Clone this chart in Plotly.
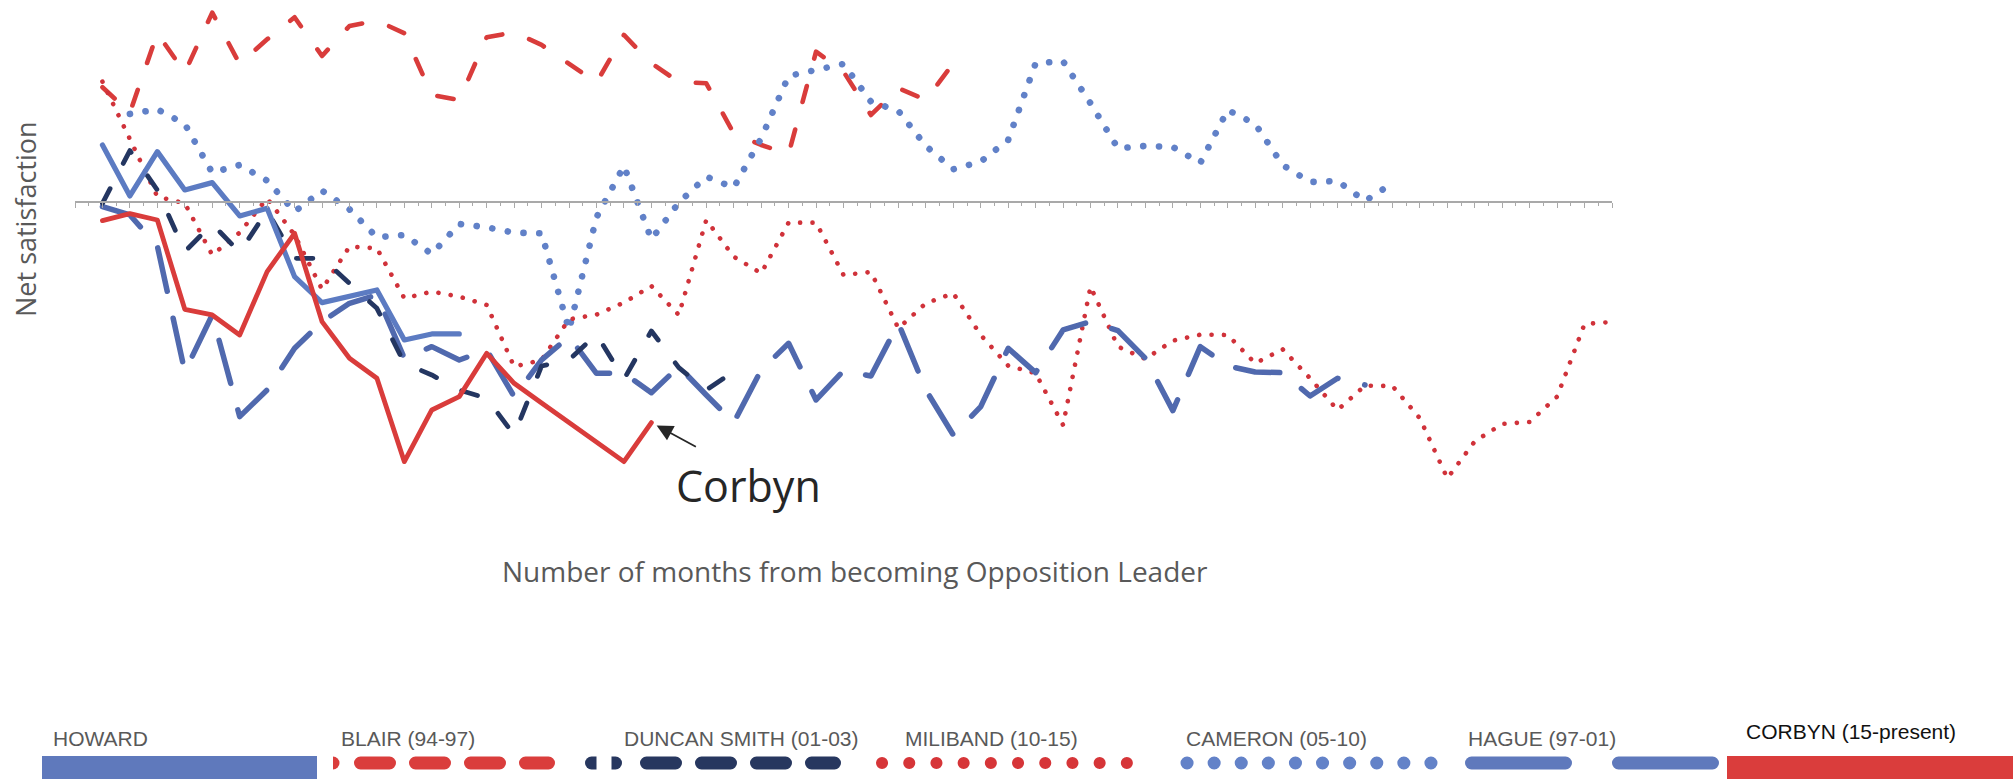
import plotly.graph_objects as go

# ---------------- data (net satisfaction by month since becoming leader) -------------
blair = [17.25, 13.45, 25.35, 19.45, 28.45, 20.75, 24.45, 27.75, 21.95, 26.45, 27.25, 25.35,
         16.1, 15.35, 24.75, 25.5, 23.6, 20.85, 17.95, 25.1, 20.85, 18.05, 17.85, 10.35,
         8.6, 7.25, 22.6, 19.6, 13.1, 17.1, 15.35, 20.85]
duncan_smith = [-0.15, 7.75, 1.85, -7.4, -3.25, -7.5, -1.25, -8.4, -8.4, -12.25, -15.9, -24.15,
                -25.9, -28.15, -29.4, -34.9, -24.55, -23.65, -19.8, -26.55, -19.3, -24.8, -28.15, -25.4]
miliband = [18.1, 9.35, 0.85, -0.15, -7.9, -4.55, 0.6, -4.9, -13.05, -6.65, -6.9, -14.4,
            -13.4, -14.15, -15.4, -24.65, -23.65, -17.55, -16.85, -15.05, -12.55, -16.9, -2.65, -8.15,
            -10.65, -3.05, -3.05, -10.9, -10.45, -18.9, -15.15, -13.65, -19.9, -24.5, -25.65, -33.4,
            -12.65, -21.65, -23.5, -20.75, -19.85, -19.9, -24.15, -22.05, -26.4, -31.15, -27.5, -27.55,
            -32.4, -41.4, -35.85, -33.25, -32.95, -29.15, -18.25, -17.95]
cameron = [13.25, 13.95, 11.75, 4.45, 5.6, 3.25, -1.4, 1.75, -1.05, -5.25, -4.9, -7.75,
           -3.25, -3.75, -4.55, -4.65, -19.15, -2.25, 5.45, -5.55, -0.05, 3.85, 2.2, 9.6,
           18.95, 19.8, 20.75, 15.1, 13.7, 8.45, 4.95, 6.1, 9.35, 20.85, 21.15, 14.85,
           8.1, 8.45, 8.3, 5.9, 13.85, 11.75, 5.6, 3.05, 3.2, 0.2, 2.85]
hague = [-0.65, -1.9, -6.55, -25.4, -16.9, -32.15, -28.15, -21.9, -17.9, -15.15, -13.9, -23.4,
         -21.65, -23.65, -22.15, -29.15, -23.65, -20.15, -25.65, -25.65, -28.55, -24.65, -28.9, -33.05,
         -25.15, -21.15, -29.65, -25.25, -26.05, -18.15, -28.15, -34.9, -30.65, -21.9, -25.55, -19.15,
         -17.9, -19.25, -23.4, -31.25, -21.65, -24.55, -25.45, -25.55, -29.05, -26.4, -27.4]
howard = [8.6, 0.95, 7.6, 1.85, 2.95, -2.05, -0.9, -11.15, -15.05, -14.0, -13.15, -20.65,
          -19.75, -19.75]
corbyn = [-2.75, -1.7, -2.65, -16.05, -16.9, -19.9, -10.4, -4.65, -17.9, -23.4, -26.4, -38.9,
          -31.15, -29.15, -22.65, -27.15, -30.1, -33.05, -35.95, -38.9, -33.05]

series_names = ["HOWARD", "BLAIR (94-97)", "DUNCAN SMITH (01-03)", "MILIBAND (10-15)",
                "CAMERON (05-10)", "HAGUE (97-01)", "CORBYN (15-present)"]
start_month = {"blair": 0, "duncan_smith": 0, "miliband": 0, "cameron": 1,
               "hague": 0, "howard": 0, "corbyn": 0}
x_min, x_max = -1, 55

# ---------------- geometry helpers (figure pixels -> paper) ----------------
W, H = 2013, 779
def px(xp):
    return xp / W
def py(yp):
    return 1 - yp / H

RED = "#D93C3B"
RED_DOT = "#D0323A"
BLUE = "#5C7BC2"
BLUE_DASH = "#5069AE"
BLUE_DOT = "#6181C8"
NAVY = "#243661"
GREY_TXT = "#595959"

fig = go.Figure()

def add(name, key, vals, color, width, dash):
    s = start_month[key]
    fig.add_trace(go.Scatter(x=list(range(s, s + len(vals))), y=vals, mode="lines",
                             name=name, line=dict(color=color, width=width, dash=dash),
                             showlegend=False, hoverinfo="skip"))

add("BLAIR (94-97)", "blair", blair, RED, 4.6, "16.5px,28.5px")
add("CAMERON (05-10)", "cameron", cameron, BLUE_DOT, 6.6, "0.1px,15.7px")
add("MILIBAND (10-15)", "miliband", miliband, RED_DOT, 4.6, "0.1px,12.3px")
add("HAGUE (97-01)", "hague", hague, BLUE_DASH, 5.5, "44.5px,27.5px")
add("DUNCAN SMITH (01-03)", "duncan_smith", duncan_smith, NAVY, 4.8, "16.5px,28.5px")
add("HOWARD", "howard", howard, BLUE, 5.2, "solid")
add("CORBYN (15-present)", "corbyn", corbyn, RED, 4.8, "solid")

# y value <-> pixel:  ypix = 202.3 - 6.667*v
y_top = 202.3 / 6.667
y_bot = (202.3 - H) / 6.667

fig.update_layout(
    width=W, height=H, margin=dict(l=0, r=0, t=0, b=0),
    paper_bgcolor="white", plot_bgcolor="white",
    xaxis=dict(domain=[px(75), px(1612)], range=[x_min, x_max], anchor="free",
               position=py(202.3), showline=True, linecolor="#A9A9A9", linewidth=1.5,
               ticks="outside", ticklen=5, tickwidth=1.2, tickcolor="#A9A9A9",
               tickmode="linear", tick0=x_min, dtick=1, showticklabels=False,
               showgrid=False, zeroline=False,
               minor=dict(ticks="outside", ticklen=3, tickwidth=1.2, tickcolor="#A9A9A9",
                          dtick=0.5, tick0=x_min, showgrid=False)),
    yaxis=dict(domain=[0, 1], range=[y_bot, y_top], visible=False, fixedrange=True),
    font=dict(family="Open Sans", color=GREY_TXT),
)

ann = []
ann.append(dict(text="Net satisfaction", x=px(25), y=py(219), xref="paper", yref="paper",
                xanchor="center", yanchor="middle",
                textangle=-90, showarrow=False, font=dict(size=27, color=GREY_TXT, family="Open Sans")))
ann.append(dict(text="Number of months from becoming Opposition Leader", x=px(855), y=py(571),
                xref="paper", yref="paper", xanchor="center", yanchor="middle", showarrow=False,
                font=dict(size=28, color=GREY_TXT, family="Open Sans")))
ann.append(dict(text="Corbyn", x=px(748), y=py(486), xref="paper", yref="paper",
                xanchor="center", yanchor="middle", showarrow=False,
                font=dict(size=43, color="#262626", family="Open Sans")))
# arrow pointing to the last Corbyn value
ann.append(dict(text="", x=len(corbyn) - 1, y=corbyn[-1], xref="x", yref="y",
                showarrow=True, arrowhead=2, arrowsize=1.8, arrowwidth=1.8, arrowcolor="#262626",
                ax=46, ay=25, standoff=6))

# ---------------- custom legend at the bottom ----------------
label_x = [51, 339, 622, 903, 1184, 1466, 1744]
for i, name in enumerate(series_names):
    is_c = name.startswith("CORBYN")
    ann.append(dict(text=name, x=px(label_x[i]), y=py(731 if is_c else 738), xref="paper",
                    yref="paper", xanchor="left", yanchor="middle", showarrow=False,
                    font=dict(family="Liberation Sans", size=21,
                              color="#111111" if is_c else GREY_TXT)))

shapes = []
ly = 763
shapes.append(dict(type="rect", xref="paper", yref="paper", x0=px(42), x1=px(317),
                   y0=py(790), y1=py(756), fillcolor="#5F79BC", line=dict(width=0)))
shapes.append(dict(type="rect", xref="paper", yref="paper", x0=px(1727), x1=px(2013),
                   y0=py(790), y1=py(756), fillcolor="#DA3D3C", line=dict(width=0)))
def leg_line(x0, x1, color, width, dash):
    shapes.append(dict(type="line", xref="paper", yref="paper", x0=px(x0), x1=px(x1),
                       y0=py(ly), y1=py(ly), line=dict(color=color, width=width, dash=dash)))
def white_box(x0, x1):
    shapes.append(dict(type="rect", xref="paper", yref="paper", x0=px(x0), x1=px(x1),
                       y0=py(775), y1=py(750), fillcolor="white", line=dict(width=0)))
# Blair
leg_line(332, 333, "#DA3D3C", 13, "solid")
white_box(318, 333)
leg_line(360.5, 548.5, "#DA3D3C", 13, "29px,26px")
# Duncan Smith
leg_line(591.5, 615.5, "#27375F", 13, "solid")
white_box(596.5, 611.5)
leg_line(646.5, 834.5, "#27375F", 13, "29px,26px")
# Miliband / Cameron / Hague
leg_line(882, 1128, "#D63538", 12, "0.1px,27.1px")
leg_line(1187, 1434, "#6382C8", 13, "0.1px,27px")
leg_line(1471.5, 1713, "#5F79BC", 13, "94px,53px")

fig.update_layout(annotations=ann, shapes=shapes)

css = ("document.body.style.margin='0';document.body.style.overflow='hidden';"
       "var s=document.createElement('style');"
       "s.innerHTML='.js-line{stroke-linecap:round;stroke-linejoin:round;}"
       " .shapelayer path{stroke-linecap:round;}';"
       "document.head.appendChild(s);")
fig.write_html("out.html", post_script=css, config={"displayModeBar": False})
